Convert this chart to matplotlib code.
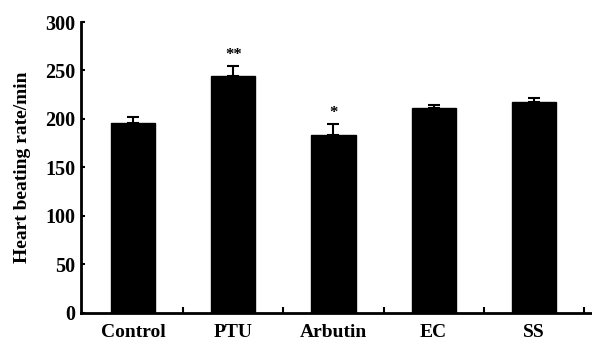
import matplotlib
matplotlib.use("Agg")
import matplotlib.pyplot as plt
import numpy as np

categories = ["Control", "PTU", "Arbutin", "EC", "SS"]
values = [196, 244, 183, 211, 217]
errors = [6, 11, 12, 3, 5]
marks = ["", "**", "*", "", ""]
yticks = [0, 50, 100, 150, 200, 250, 300]

plt.rcParams['font.family'] = ['Liberation Serif', 'DejaVu Serif']
plt.rcParams['font.weight'] = 'bold'

fig = plt.figure(figsize=(5.92, 3.40), dpi=100)
ax = fig.add_axes([81/592, (340-312.7)/340, (592-81)/592, 290.7/340])

x = np.arange(len(categories))
ax.bar(x, values, width=0.44, color='black', edgecolor='black')
ax.errorbar(x, values, yerr=[np.zeros(len(errors)), errors], fmt='none',
            ecolor='black', elinewidth=1.5, capsize=4, capthick=1.5)
for xi, v, e, m in zip(x, values, errors, marks):
    if m:
        ax.text(xi, v + e + 3, m, ha='center', va='bottom', fontsize=12,
                fontweight='bold', color='black')

ax.set_xlim(-0.52, 4.58)
ax.set_ylim(0, 300)
ax.set_yticks(yticks)
ax.set_xticks(x)
ax.set_xticklabels(categories, fontsize=14, fontweight='bold')
ax.set_xticks(x + 0.5, minor=True)
ax.tick_params(axis='x', which='major', length=0, pad=8)
ax.tick_params(axis='x', which='minor', direction='in', length=4, width=1.5)
ax.tick_params(axis='y', direction='in', length=3, width=1.5, labelsize=14.5, pad=4)
for lab in ax.get_yticklabels():
    lab.set_fontweight('bold')
ax.set_ylabel("Heart beating rate/min", fontsize=14, fontweight='bold', labelpad=10)

for s in ['top', 'right']:
    ax.spines[s].set_visible(False)
for s in ['left', 'bottom']:
    ax.spines[s].set_linewidth(2)

fig.savefig("out.png", dpi=100)
